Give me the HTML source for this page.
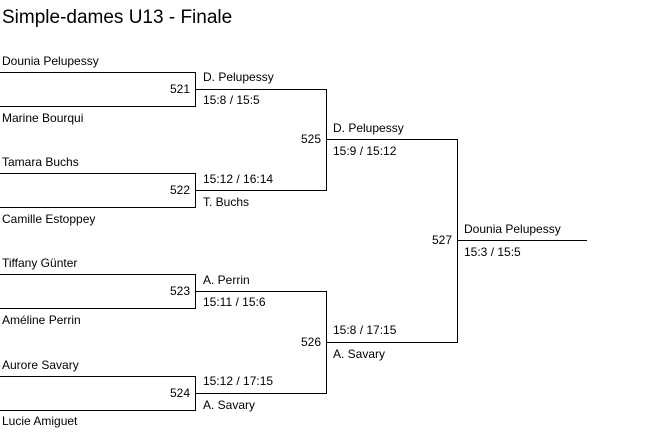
<!DOCTYPE html>
<html><head><meta charset="utf-8"><style>
html,body{margin:0;padding:0;background:#fff;}
svg{display:block;font-family:"Liberation Sans",Arial,sans-serif;}
text{font-size:12px;fill:#000;}
</style></head><body>
<svg width="653" height="437" viewBox="0 0 653 437">
<text x="2" y="23" style="font-size:19px">Simple-dames U13 - Finale</text>
<g stroke="#000" stroke-width="1" fill="none" shape-rendering="crispEdges">
<path d="M0 72.5H195.5V106.5H0"/>
<path d="M0 173.5H195.5V207.5H0"/>
<path d="M0 274.5H195.5V308.5H0"/>
<path d="M0 376.5H195.5V410.5H0"/>
<path d="M195.5 89.5H326.5V190.5H195.5"/>
<path d="M195.5 291.5H326.5V393.5H195.5"/>
<path d="M326.5 139.5H457.5V342.5H326.5"/>
<path d="M457.5 240.5H587"/>
</g>
<text x="2" y="65">Dounia Pelupessy</text>
<text x="2" y="122">Marine Bourqui</text>
<text x="2" y="166">Tamara Buchs</text>
<text x="2" y="223">Camille Estoppey</text>
<text x="2" y="267">Tiffany Günter</text>
<text x="2" y="324">Améline Perrin</text>
<text x="2" y="369">Aurore Savary</text>
<text x="2" y="425">Lucie Amiguet</text>
<text x="190" y="93" text-anchor="end">521</text>
<text x="190" y="194" text-anchor="end">522</text>
<text x="190" y="295" text-anchor="end">523</text>
<text x="190" y="397" text-anchor="end">524</text>
<text x="321" y="143" text-anchor="end">525</text>
<text x="321" y="346" text-anchor="end">526</text>
<text x="452" y="244" text-anchor="end">527</text>
<text x="203" y="81">D. Pelupessy</text>
<text x="203" y="104">15:8 / 15:5</text>
<text x="203" y="183">15:12 / 16:14</text>
<text x="203" y="206">T. Buchs</text>
<text x="203" y="284">A. Perrin</text>
<text x="203" y="306">15:11 / 15:6</text>
<text x="203" y="385">15:12 / 17:15</text>
<text x="203" y="409">A. Savary</text>
<text x="333" y="132">D. Pelupessy</text>
<text x="333" y="155">15:9 / 15:12</text>
<text x="333" y="334">15:8 / 17:15</text>
<text x="333" y="358">A. Savary</text>
<text x="464" y="233">Dounia Pelupessy</text>
<text x="464" y="256">15:3 / 15:5</text>
</svg>
</body></html>
